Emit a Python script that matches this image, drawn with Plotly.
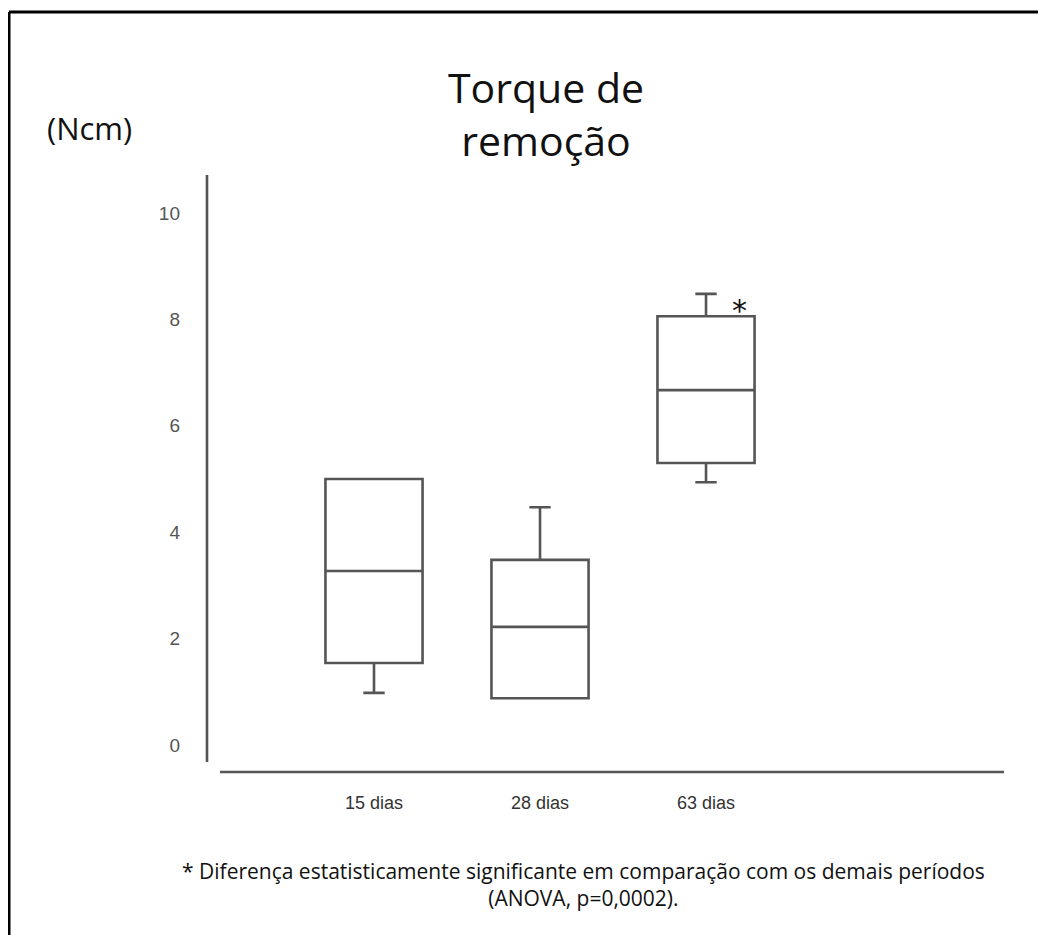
import plotly.graph_objects as go

# ---- data ----
categories = ["15 dias", "28 dias", "63 dias"]
q1 = [1.54, 0.88, 5.30]
median = [3.27, 2.22, 6.67]
q3 = [5.00, 3.48, 8.06]
lower_whisker = [0.98, 0.98, 4.94]
upper_whisker = [4.96, 4.47, 8.48]
y_ticks = [0, 2, 4, 6, 8, 10]

W, H = 1046, 935
OFF = 8  # page body margin
L, R, T, B = 207, 1004, 175, 772  # plot area in screen px


def px(x):
    return (x - L) / (R - L)


def py(y):
    return (B - y) / (B - T)


fig = go.Figure()
for i, c in enumerate(categories):
    fig.add_trace(go.Box(
        x=[c], q1=[q1[i]], median=[median[i]], q3=[q3[i]],
        lowerfence=[lower_whisker[i]], upperfence=[upper_whisker[i]],
        width=0.585, whiskerwidth=0.22,
        fillcolor="white", line=dict(color="#555555", width=2.6),
        boxpoints=False, showlegend=False, hoverinfo="skip",
    ))

line_col = "#555555"
shapes = [
    dict(type="line", xref="paper", yref="paper", x0=px(220), x1=px(1004),
         y0=0, y1=0, line=dict(color=line_col, width=2.6)),
    dict(type="line", xref="paper", yref="paper", x0=0, x1=0,
         y0=py(762), y1=py(175), line=dict(color=line_col, width=2.6)),
    dict(type="line", xref="paper", yref="paper", x0=px(9), x1=px(9),
         y0=py(950), y1=py(12), line=dict(color="black", width=3)),
    dict(type="line", xref="paper", yref="paper", x0=px(9), x1=px(1060),
         y0=py(12), y1=py(12), line=dict(color="black", width=3)),
]

annotations = [
    dict(text="Torque de<br>remoção", xref="paper", yref="paper",
         x=px(546), y=py(114), xanchor="center", yanchor="middle",
         showarrow=False, font=dict(family="Open Sans", size=41, color="#111111")),
    dict(text="(Ncm)", xref="paper", yref="paper",
         x=px(89), y=py(128), xanchor="center", yanchor="middle",
         showarrow=False, font=dict(family="Open Sans", size=31, color="#111111")),
    dict(text="*", xref="x", yref="paper", x=2.2, y=py(310),
         xanchor="center", yanchor="middle", showarrow=False,
         font=dict(family="DejaVu Sans", size=30, color="#111111")),
    dict(text="* Diferença estatisticamente significante em comparação com os demais períodos<br>(ANOVA, p=0,0002).",
         xref="paper", yref="paper", x=px(583), y=py(885),
         xanchor="center", yanchor="middle", showarrow=False,
         font=dict(family="Open Sans", size=21, color="#111111")),
]

fig.update_layout(
    width=W, height=H,
    margin=dict(l=L - OFF, r=W - (R - OFF), t=T - OFF, b=H - (B - OFF), pad=0),
    paper_bgcolor="white", plot_bgcolor="white",
    shapes=shapes, annotations=annotations,
    xaxis=dict(type="category", range=[-1.006, 3.795], showgrid=False,
               zeroline=False, showline=False, ticks="",
               tickfont=dict(family="Liberation Sans", size=18, color="#333333"),
               ticklabelstandoff=18),
    yaxis=dict(range=[-0.5075, 10.714], tickvals=y_ticks, showgrid=False,
               zeroline=False, showline=False, ticks="",
               tickfont=dict(family="Liberation Sans", size=19, color="#555555"),
               ticklabelstandoff=26),
)

fig.write_html("out.html")
